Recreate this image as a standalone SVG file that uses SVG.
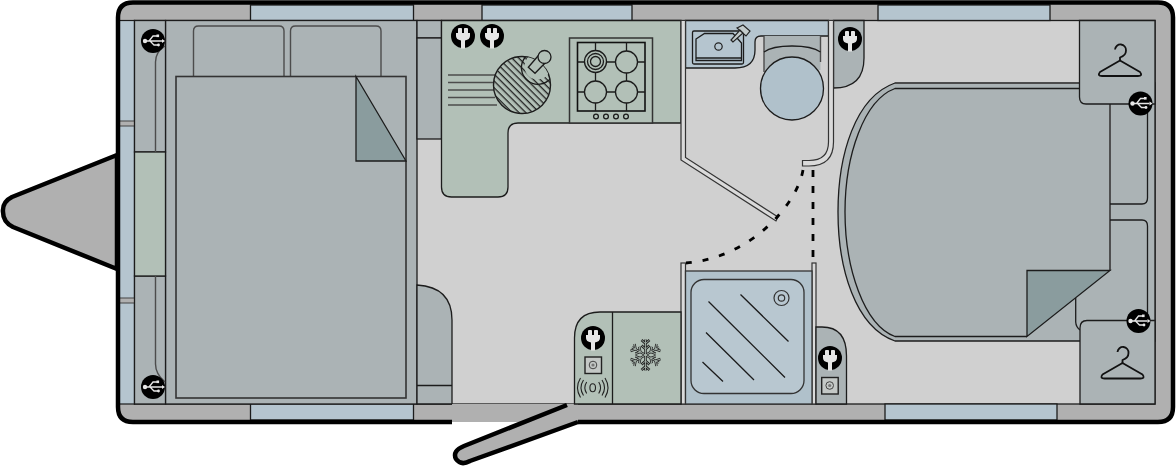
<svg xmlns="http://www.w3.org/2000/svg" xmlns:xlink="http://www.w3.org/1999/xlink" width="1176" height="466" viewBox="0 0 1176 466">
<style>
.ln{stroke:#1c1c1c;stroke-width:1.3;fill:none}
.gl{stroke:#4c4c4c;stroke-width:1.4;fill:none}
.unit{fill:#abb3b5;stroke:#1c1c1c;stroke-width:1.3}
.green{fill:#b2c0b7;stroke:#1c1c1c;stroke-width:1.3}
.blue{fill:#b5c5cf;stroke:#1c1c1c;stroke-width:1.3}
.fold{fill:#8a9c9e;stroke:#1c1c1c;stroke-width:1.3}
.wall{fill:#dadada;stroke:#333;stroke-width:1.2}
.bl{fill:#000}
.wh{fill:#e6e6e6}
.wl{stroke:#e6e6e6;stroke-width:1.3;fill:none}
</style>
<defs>
<pattern id="hatch" width="4.8" height="4.8" patternUnits="userSpaceOnUse" patternTransform="rotate(45)"><rect width="4.8" height="4.8" fill="#b2c0b7"/><rect width="4.8" height="1.3" fill="#222"/></pattern>
<clipPath id="sinkclip"><circle cx="522" cy="85" r="28.5"/></clipPath>
<g id="usb"><circle r="12" class="bl"/><path class="wl" d="M-8,0H9M-4,0L0,-5H4M-3,0L1,4H5"/><circle cx="-8" r="2.2" class="wh"/><path class="wh" d="M9,-2L12,0L9,2Z"/><rect x="3.5" y="-6.5" width="2.6" height="2.6" class="wh"/><circle cx="5.5" cy="4" r="1.4" class="wh"/></g>
<g id="plug"><circle r="12" class="bl"/><path class="wh" d="M-7,-3H-5V-7Q-5,-8 -4,-8H-1.7Q-1,-8 -1,-7V-3H1V-7Q1,-8 1.7,-8H4Q5,-8 5,-7V-3H7V0Q7,3.5 2,4.5V12.5H-2V4.5Q-7,3.5 -7,0Z"/></g>
<g id="socket"><rect x="-8" y="-8" width="16.5" height="16.5" fill="#c4c8c6" stroke="#222" stroke-width="1.4"/><circle r="3.8" fill="none" stroke="#444" stroke-width="1"/><circle r="1.6" fill="#777"/></g>
<g id="hanger" fill="none" stroke="#111" stroke-width="1.8" stroke-linejoin="round"><path d="M0,0L-20,11.5Q-23,15.5 -18,15.5H18Q23,15.5 20,11.5Z"/><path d="M0,0V-3Q6,-5 6,-10A5.5,5.5 0 0 0 -5,-11"/></g>
<path id="armline" d="M0,0V-15.5M-4,-15L0,-11.5L4,-15M-4,-9.5L0,-6L4,-9.5"/>
<g id="arm"><use href="#armline" stroke="#222" stroke-width="2.5" fill="none"/></g>
<g id="armin"><use href="#armline" stroke="#b2c0b7" stroke-width="0.8" fill="none"/></g>
</defs>

<g id="towbar"><path d="M117,155L12,197Q2,202 3,212Q3,222 13,227L117,269Z" fill="#b0b0b0" stroke="#000" stroke-width="4.5" stroke-linejoin="round"/></g>

<g id="body">
<rect x="118" y="2.5" width="1055" height="419.5" rx="15" fill="#b0b0b0"/>
<rect x="134.5" y="20.5" width="1020.5" height="383.5" fill="#d0d0d0" stroke="#1c1c1c" stroke-width="1.3"/>
<rect x="119" y="20.5" width="15.5" height="383.5" fill="#b5c5cf" stroke="#1c1c1c" stroke-width="1.2"/>
<g fill="#b0b0b0" stroke="#444" stroke-width="1"><rect x="119" y="121" width="15.5" height="5"/><rect x="119" y="298" width="15.5" height="5"/></g>
<g class="blue">
<rect x="250.5" y="5" width="163" height="15.5"/><rect x="482" y="5" width="150" height="15.5"/><rect x="878" y="5" width="172" height="15.5"/>
<rect x="250.5" y="404" width="163" height="16"/><rect x="885" y="404" width="172" height="16"/>
</g>
</g>

<g id="front-bed">
<rect class="unit" x="165.5" y="20.5" width="251.5" height="383.5"/>
<rect class="unit" x="134.5" y="20.5" width="31" height="131.5"/>
<rect class="unit" x="134.5" y="276" width="31" height="128"/>
<rect class="green" x="134.5" y="152" width="31" height="124"/>
<path class="gl" d="M155.5,152V62Q155.5,52 165,46M155.5,276V364Q155.5,374 165,382"/>
<path class="gl" d="M193.5,76V31Q193.5,26 198.5,26H279Q284,26 284,31V76M290.5,76V31Q290.5,26 295.5,26H376Q381,26 381,31V96Q381,101 376,101H372"/>
<rect x="176" y="76.5" width="230" height="321.5" fill="#abb3b5" stroke="#333" stroke-width="1.6"/>
<path class="fold" d="M356,76.5L406,161H356Z"/>
</g>

<g id="usb-front-top"><use href="#usb" x="153" y="41"/></g>
<g id="usb-front-bottom"><use href="#usb" x="153" y="387"/></g>

<g id="side-units">
<rect class="unit" x="417" y="20.5" width="24.5" height="17.5"/>
<rect class="unit" x="417" y="38" width="24.5" height="101"/>
<path class="unit" d="M417,285Q452,287 452,320V404H417Z"/>
<path class="ln" d="M417,385.5H452"/>
</g>

<g id="door">
<rect x="452" y="404" width="126" height="18" fill="#b0b0b0"/>
<path d="M567,405L464,446Q452,451 456,459Q461,466 470,461L578,422" fill="#b0b0b0" stroke="#000" stroke-width="4.5"/>
</g>

<g id="outline"><path d="M452,422H133Q118,422 118,407V17.5Q118,2.5 133,2.5H1158Q1173,2.5 1173,17.5V407Q1173,422 1158,422H578" fill="none" stroke="#000" stroke-width="4.5"/></g>

<g id="kitchen">
<path class="green" d="M441.5,20.5H681V123H518Q508,123 508,133V187Q508,197 498,197H451.5Q441.5,197 441.5,187Z"/>
<use href="#plug" x="463" y="36"/><use href="#plug" x="492" y="36"/>
<path class="gl" d="M448,75H496M448,82.5H495M448,90H494M448,97.5H495M448,105H497"/>
<circle cx="522" cy="85" r="28.5" fill="url(#hatch)" stroke="#1c1c1c" stroke-width="1.4"/>
<circle cx="537.5" cy="66.5" r="13" fill="#b2c0b7" clip-path="url(#sinkclip)"/>
<path class="ln" d="M525,57.5A13,13 0 0 0 551,78" clip-path="url(#sinkclip)"/>
<path d="M528.3,67.3L535,73.3L546,62L538,56Z" fill="#b2c0b7" stroke="#1c1c1c" stroke-width="1.3"/>
<circle cx="544.5" cy="57" r="6.5" fill="#b2c0b7" stroke="#1c1c1c" stroke-width="1.3"/>
<rect x="569.5" y="38" width="83" height="85" fill="#b2c0b7" stroke="#333" stroke-width="1.5"/>
<rect x="577.5" y="42.5" width="67.5" height="68.5" fill="none" stroke="#111" stroke-width="1.6"/>
<path class="ln" d="M595.5,42.5V111M626.5,42.5V111M577.5,62H645M577.5,92H645"/>
<g fill="#b2c0b7" stroke="#1c1c1c" stroke-width="1.3">
<circle cx="595.5" cy="61.5" r="11"/><circle cx="595.5" cy="61.5" r="8"/><circle cx="595.5" cy="61.5" r="5"/>
<circle cx="626.5" cy="62" r="11"/><circle cx="595.5" cy="92" r="11"/><circle cx="626.5" cy="92" r="11"/>
<circle cx="596" cy="116.5" r="2.4"/><circle cx="606" cy="116.5" r="2.4"/><circle cx="616" cy="116.5" r="2.4"/><circle cx="626" cy="116.5" r="2.4"/>
</g>
</g>

<g id="washroom">
<path class="blue" d="M685.5,20.5H828.5V36H761Q755,36 755,42V50Q755,68 735,68H685.5Z"/>
<rect x="692.5" y="31" width="51" height="33" rx="1.5" class="blue"/>
<path class="ln" d="M696,39L704.5,33.5H733L741.5,43V60.5H696Z"/>
<path class="ln" d="M696,58H741.5"/>
<circle cx="718.5" cy="46.5" r="3.7" fill="none" stroke="#222" stroke-width="1.2"/>
<path d="M733,42L731,40L740,30L743,33ZM737,28L743,25L750,31L746,36Z" fill="#c4cccc" stroke="#222" stroke-width="1.2"/>
<path d="M764,36H820.5V70H764Z" fill="#abb3b5"/>
<path class="gl" d="M764,36V72M820.5,36V62"/>
<path class="ln" d="M764,52Q772,46 792,46Q812,46 820.5,52"/>
<circle cx="792" cy="88.5" r="31.5" fill="#b0c1cb" stroke="#1c1c1c" stroke-width="1.3"/>
<path class="unit" d="M833.5,20.5H864V58Q864,88 833.5,88Z"/>
<use href="#plug" x="850" y="39"/>
</g>

<g id="walls">
<path class="wall" d="M681,20.5H685.5V157.5L778,217L776,221L681,160Z"/>
<path class="wall" d="M828.5,20.5H833.5V142Q833.5,166 809,166H802.5V160.5H809Q828.5,160.5 828.5,142Z"/>
<rect class="wall" x="681" y="263" width="4.5" height="141"/>
<rect class="wall" x="812" y="263" width="4" height="141"/>
</g>

<g id="door-swings" fill="none" stroke="#000" stroke-width="2.8" stroke-dasharray="6 11">
<path d="M803,170C797,205 750,258 686,263"/>
<path d="M813,170V266" stroke-dasharray="7 9"/>
</g>

<g id="shower">
<rect x="685.5" y="271" width="126.5" height="133" fill="#b0c1cb" stroke="#333" stroke-width="1.3"/>
<rect x="691" y="279.5" width="113" height="114" rx="13" fill="#b8c7d0" stroke="#333" stroke-width="1.3"/>
<circle cx="781.5" cy="298" r="7.5" fill="none" stroke="#333" stroke-width="1.2"/><circle cx="781.5" cy="298" r="3.2" fill="none" stroke="#333" stroke-width="1.2"/>
<path class="ln" d="M708.5,301.5L785,377.5M740.5,294.5L788.5,341.5M706,332.5L754,380M702.5,362L723,381.5"/>
</g>

<g id="cupboard-aisle">
<path class="unit" d="M816,327H822Q846.5,327 846.5,356V404H816Z"/>
<use href="#plug" x="830" y="358"/>
<use href="#socket" x="829.7" y="385.5"/>
</g>

<g id="fridge">
<path class="green" d="M574.5,404V338Q574.5,312 600,312H681V404Z"/>
<path class="ln" d="M612.5,312V404"/>
<use href="#plug" x="593" y="338"/>
<use href="#socket" x="593" y="365"/>
<g fill="none" stroke="#222" stroke-width="1.1">
<ellipse cx="592.7" cy="387.7" rx="2.8" ry="4"/>
<path d="M586.7,382Q583,387.7 586.7,393.5M598.7,382Q602.4,387.7 598.7,393.5M583.5,380Q578.5,387.7 583.5,395.5M602,380Q607,387.7 602,395.5M580.5,378Q574.5,387.7 580.5,397.5M605,378Q611,387.7 605,397.5"/>
</g>
<g id="snow" transform="translate(645.5,355)">
<use href="#arm"/><use href="#arm" transform="rotate(60)"/><use href="#arm" transform="rotate(120)"/><use href="#arm" transform="rotate(180)"/><use href="#arm" transform="rotate(240)"/><use href="#arm" transform="rotate(300)"/>
<use href="#armin"/><use href="#armin" transform="rotate(60)"/><use href="#armin" transform="rotate(120)"/><use href="#armin" transform="rotate(180)"/><use href="#armin" transform="rotate(240)"/><use href="#armin" transform="rotate(300)"/>
</g>
</g>

<g id="rear-bed">
<path d="M1155,83H895C855,97 838,155 838,212C838,268 855,327 895,341H1155Z" fill="#abb3b5" stroke="#1c1c1c" stroke-width="1.3"/>
<path d="M1081,83H895" stroke="#4c4c4c" stroke-width="2" fill="none"/>
<path d="M1110,88.5H895C864,100 845,155 845,212C845,268 864,325 895,336.5H1027" fill="none" stroke="#1c1c1c" stroke-width="1.3"/>
<path d="M1110,88.5V270.5" stroke="#444" stroke-width="1.8" fill="none"/>
<path class="fold" d="M1027,270.5H1110L1027,336.5Z"/>
<path class="ln" d="M1110,204H1142Q1147.5,204 1147.5,198V104M1110,220H1142Q1147.5,220 1147.5,226V320"/>
<path class="ln" d="M1075.7,298V322Q1076,327 1080,330"/>
</g>

<g id="wardrobe-top">
<path class="unit" d="M1079.5,20.5H1155V104H1086Q1079.5,104 1079.5,97Z"/>
<use href="#hanger" x="1120" y="60.5"/>
</g>
<g id="wardrobe-bottom">
<path class="unit" d="M1080,328Q1080,320.5 1087,320.5H1155V404H1080Z"/>
<use href="#hanger" x="1122.5" y="363"/>
</g>
<g id="usb-rear-top"><use href="#usb" x="1140.5" y="103.5"/></g>
<g id="usb-rear-bottom"><use href="#usb" x="1138.5" y="321"/></g>
</svg>
